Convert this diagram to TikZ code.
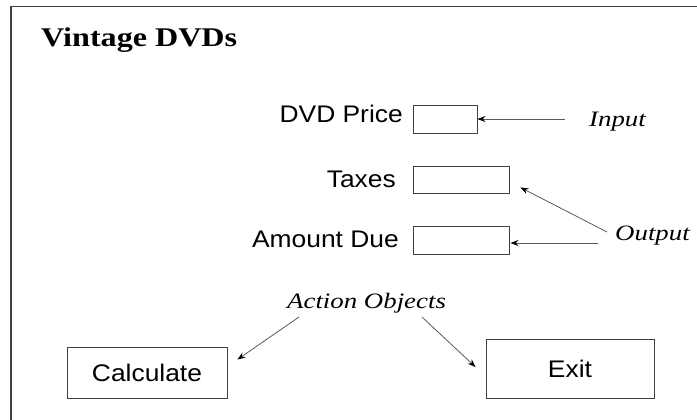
\documentclass[tikz,border=0pt]{standalone}
\usepackage{fontspec}
\setmainfont{Liberation Serif}
\newfontfamily\titlef{Liberation Serif}[FakeStretch=1.19]
\newfontfamily\sansf{Liberation Sans}[FakeStretch=1.1]
\newfontfamily\itf{Liberation Serif}[FakeStretch=1.22]
\usetikzlibrary{arrows.meta,calc}
\tikzset{
  lbl/.style={inner sep=0pt, font=\sansf\fontsize{24}{28}\selectfont},
  note/.style={inner sep=0pt, font=\itf\itshape\fontsize{22}{26}\selectfont},
  field/.style={draw=black!75, line width=0.9pt, inner sep=0pt, fill=white},
  btn/.style={draw=black!75, line width=0.9pt, inner sep=0pt, font=\sansf\fontsize{24}{28}\selectfont},
  pointer/.style={draw=black!65, line width=0.8pt, -{Stealth[length=8pt,width=6pt,black]}},
  frameline/.style={draw=black!75, line width=1.3pt}
}
\begin{document}
\begin{tikzpicture}[x=1pt,y=-1pt]
\useasboundingbox (0,0) rectangle (697,420);
% frame
\coordinate (fr0) at (11,420);
\coordinate (fr1) at (11,6.5);
\coordinate (fr2) at (697,6.5);
\draw[frameline] (fr0) -- (fr1) -- (fr2);
% title
\node[inner sep=0pt, anchor=base west, font=\titlef\bfseries\fontsize{27}{30}\selectfont] (title) at (41,47) {Vintage DVDs};
% labels
\node[lbl, anchor=base east] (lprice) at (403,123) {DVD Price};
\node[lbl, anchor=base east] (ltax) at (396,187) {Taxes};
\node[lbl, anchor=base east] (ldue) at (399,247) {Amount Due};
% fields
\node[field, minimum width=64pt, minimum height=28pt] (b1) at (445,119) {};
\node[field, minimum width=96pt, minimum height=27pt] (b2) at (461,179.5) {};
\node[field, minimum width=96pt, minimum height=28pt] (b3) at (461,240) {};
% buttons
\node[btn, minimum width=160pt, minimum height=51pt] (calc) at (147,372.5) {Calculate};
\node[btn, minimum width=168pt, minimum height=59pt] (exit) at (570,368.5) {Exit};
% notes
\node[note, anchor=base west] (inp) at (589,127) {Input};
\node[note, anchor=base west] (outp) at (615,240) {Output};
\node[note, anchor=base west] (act) at (287,308) {Action Objects};
% pointers
\coordinate (ia) at (565,119);
\draw[pointer] (ia) -- (b1.east |- ia);
\coordinate (oa) at (598,243);
\draw[pointer] (oa) -- ($(b3.east |- oa)+(1,0)$);
\coordinate (ob) at (607,232);
\draw[pointer] (ob) -- ($(b2.south east)+(11,-6)$);
\coordinate (aa) at (299,317);
\draw[pointer] (aa) -- ($(calc.north east)+(10,13)$);
\coordinate (ab) at (422,317);
\draw[pointer] (ab) -- ($(exit.west)+(-10,-1.5)$);
\end{tikzpicture}
\end{document}
